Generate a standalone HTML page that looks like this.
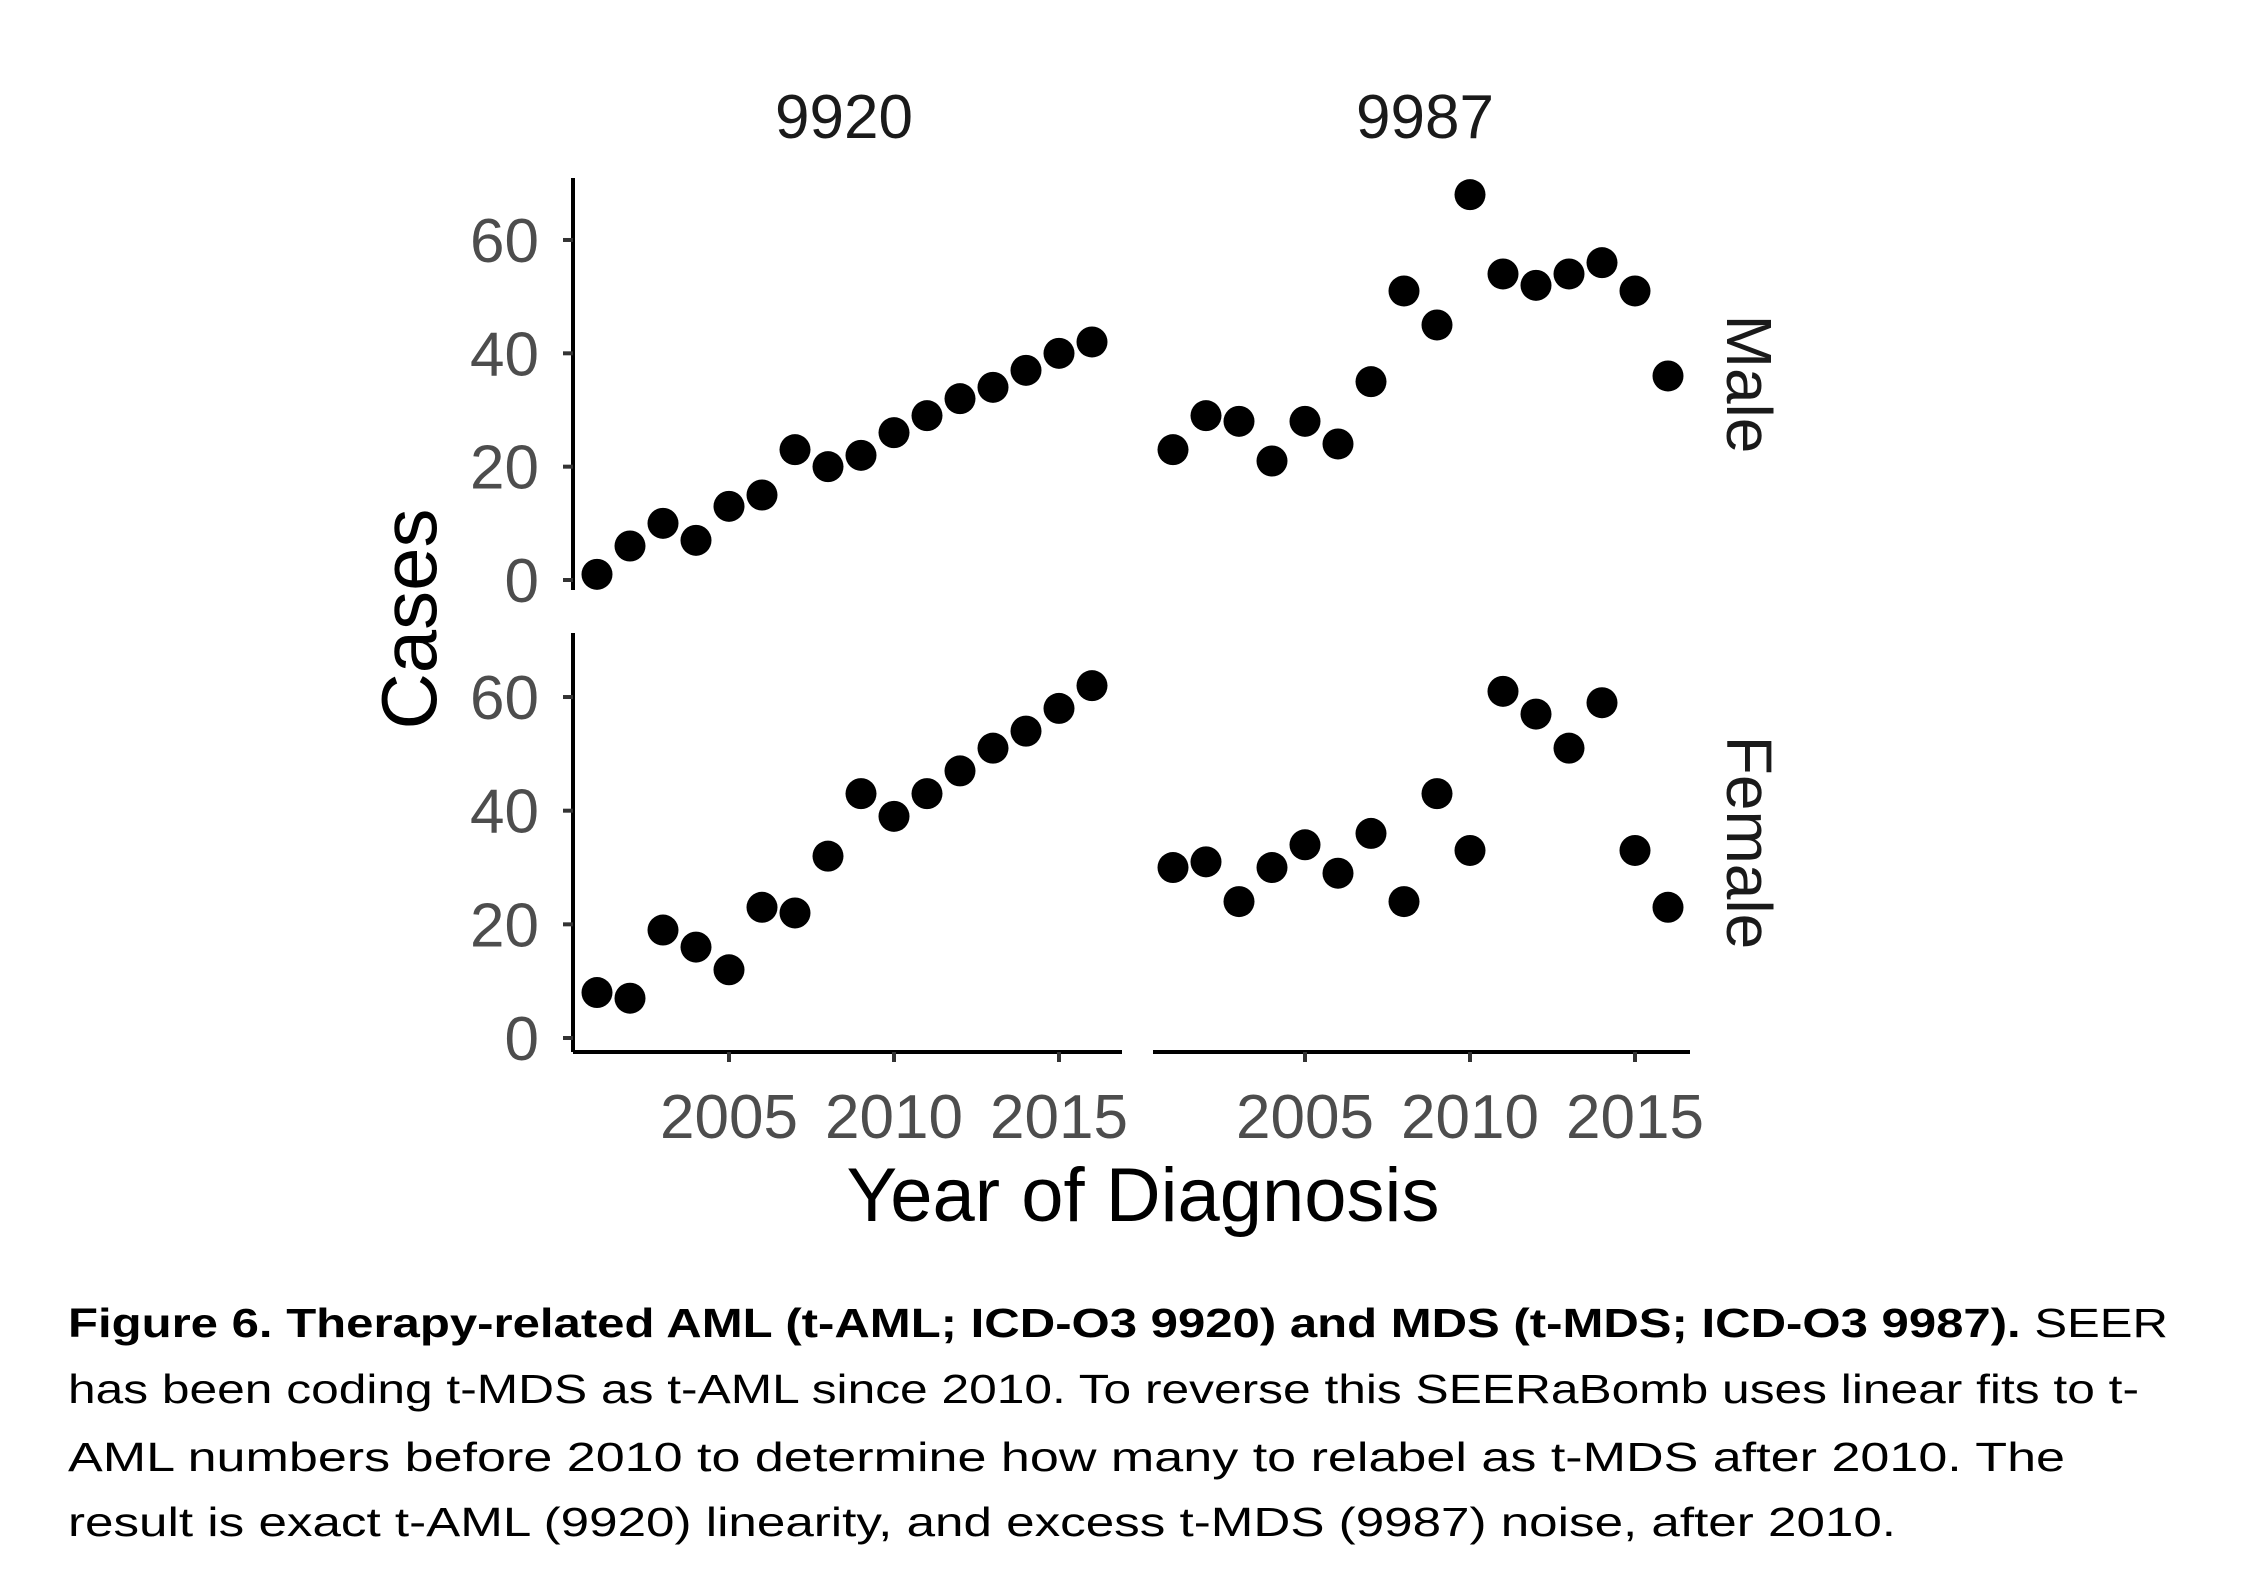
<!DOCTYPE html>
<html><head><meta charset="utf-8"><style>
html,body{margin:0;padding:0;background:#fff}
svg{display:block}
</style></head><body>
<svg id="chart" width="2249" height="1574" viewBox="0 0 2249 1574" xmlns="http://www.w3.org/2000/svg" font-family="Liberation Sans, Arial, sans-serif">
<rect width="2249" height="1574" fill="#fff"/>
<g id="plot"></g>
<g font-family="Liberation Sans Narrow, Liberation Sans, sans-serif" font-size="41" fill="#000">
<text x="68" y="1337" textLength="2100" lengthAdjust="spacingAndGlyphs"><tspan font-weight="bold">Figure 6. Therapy-related AML (t-AML; ICD-O3 9920) and MDS (t-MDS; ICD-O3 9987).</tspan>  SEER</text>
<text x="68" y="1403" textLength="2071" lengthAdjust="spacingAndGlyphs">has been coding t-MDS as t-AML since 2010. To reverse this SEERaBomb uses linear fits to t-</text>
<text x="68" y="1471" textLength="1997" lengthAdjust="spacingAndGlyphs">AML numbers before 2010 to determine how many to relabel as t-MDS after 2010. The</text>
<text x="68" y="1536" textLength="1828" lengthAdjust="spacingAndGlyphs">result is exact t-AML (9920) linearity, and excess t-MDS (9987) noise, after 2010.</text>
</g>
</svg>
<script>
const years = [2001,2002,2003,2004,2005,2006,2007,2008,2009,2010,2011,2012,2013,2014,2015,2016];
const male9920 = [1,6,10,7,13,15,23,20,22,26,29,32,34,37,40,42];
const male9987 = [23,29,28,21,28,24,35,51,45,68,54,52,54,56,51,36];
const female9920 = [8,7,19,16,12,23,22,32,43,39,43,47,51,54,58,62];
const female9987 = [30,31,24,30,34,29,36,24,43,33,61,57,51,59,33,23];
const yTicks = [0,20,40,60];
const xTicks = [2005,2010,2015];
const colLabels = ['9920','9987'];
const rowLabels = ['Male','Female'];

const NS='http://www.w3.org/2000/svg';
const plot=document.getElementById('plot');
function mk(tag,attrs,parent){const e=document.createElementNS(NS,tag);for(const k in attrs)e.setAttribute(k,attrs[k]);(parent||plot).appendChild(e);return e;}

const AX=573, AXB=1052;
const cols=[{x0:573,x1:1122,xs:(y)=>729+(y-2005)*33},{x0:1153,x1:1690,xs:(y)=>1305+(y-2005)*33}];
const rows=[{top:178,bot:590,ys:(v)=>580-v*5.667},{top:633,bot:1052,ys:(v)=>1038-v*5.683}];
const series=[[male9920,male9987],[female9920,female9987]];
const stripX=[844,1425];

colLabels.forEach((l,i)=>{
  const t=mk('text',{x:stripX[i],y:138,'font-size':62,'text-anchor':'middle',fill:'#1a1a1a'});
  
  
  t.textContent=l;
});
rowLabels.forEach((l,i)=>{
  const cy=(rows[i].top+rows[i].bot)/2;
  const t=mk('text',{x:0,y:0,'font-size':64,'text-anchor':'middle',fill:'#1a1a1a',transform:'translate(1727,'+cy+') rotate(90)'});
  
  
  t.textContent=l;
});

rows.forEach((r,ri)=>{
  const ax=mk('line',{x1:AX,x2:AX,y1:r.top,y2:r.bot,stroke:'#000','stroke-width':4});
  
  
  yTicks.forEach(v=>{
    const y=r.ys(v);
    const tk=mk('line',{x1:AX-10,x2:AX,y1:y,y2:y,stroke:'#333','stroke-width':4});
    
    
    const t=mk('text',{x:539,y:y+22,'font-size':62,'text-anchor':'end',fill:'#4d4d4d'});
    
    
    t.textContent=v;
  });
});
cols.forEach((c,ci)=>{
  const ax=mk('line',{x1:c.x0,x2:c.x1,y1:AXB,y2:AXB,stroke:'#000','stroke-width':4});
  
  
  xTicks.forEach(v=>{
    const x=c.xs(v);
    const tk=mk('line',{x1:x,x2:x,y1:AXB,y2:AXB+10,stroke:'#333','stroke-width':4});
    
    
    const t=mk('text',{x:x,y:1138,'font-size':62,'text-anchor':'middle',fill:'#4d4d4d'});
    
    
    t.textContent=v;
  });
});
rows.forEach((r,ri)=>cols.forEach((c,ci)=>{
  const vals=series[ri][ci];
  years.forEach((yr,i)=>{
    const p=mk('circle',{cx:c.xs(yr),cy:r.ys(vals[i]),r:15.5,fill:'#000'});
    
    
  });
}));
const xt=mk('text',{x:1143,y:1221,'font-size':76,'text-anchor':'middle',fill:'#000'});


xt.textContent='Year of Diagnosis';
const yt=mk('text',{x:0,y:0,'font-size':78,'text-anchor':'middle',fill:'#000',transform:'translate(436,619) rotate(-90)'});


yt.textContent='Cases';
</script>
</body></html>
